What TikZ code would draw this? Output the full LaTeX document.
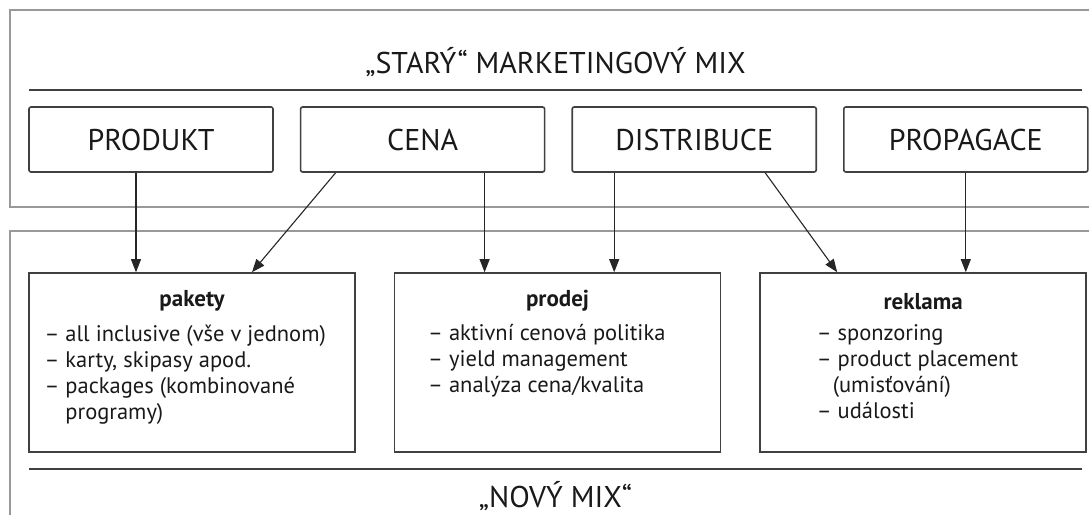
\documentclass[tikz,border=0pt]{standalone}
\usepackage{fontspec}
\setmainfont{PT Sans}
\usetikzlibrary{positioning, arrows.meta}

\begin{document}
\begin{tikzpicture}[x=0.5pt, y=-0.5pt,
    frame/.style={draw=black!40, line width=1.2pt},
    rule/.style={draw=black!75, line width=0.8pt},
    oldbox/.style={draw=black!75, line width=0.8pt, rounded corners=1pt, minimum width=122pt, minimum height=32.5pt, inner sep=0pt, font=\fontsize{15}{18}\selectfont, text=black!90},
    newbox/.style={draw=black!75, line width=0.8pt, minimum width=163pt, minimum height=89.5pt, inner sep=0pt},
    heading/.style={font=\fontsize{15}{18}\selectfont, text=black!90},
    boxtitle/.style={font=\bfseries\fontsize{11.5}{12}\selectfont, text=black!90},
    items/.style={align=left, inner sep=0pt, anchor=north west, font=\fontsize{11.25}{13}\selectfont, text=black!90},
    arr/.style={-{Triangle[length=6.5pt, width=5pt]}, line width=0.55pt, draw=black!85},
    node distance=13pt]

    \useasboundingbox (0,0) rectangle (1089,515);
    \draw[frame] (1089,10) -- (10,10) -- (10,207) -- (1089,207);
    \draw[frame] (1089,231) -- (10,231) -- (10,515);

    \node[heading] (starymix) at (555.5,62) {„STARÝ“ MARKETINGOVÝ MIX};
    \draw[rule] (29,90) -- (1082,90);
    \node[oldbox] (produkt) at (151,139.5) {PRODUKT};
    \node[oldbox, right=of produkt] (cena) {CENA};
    \node[oldbox, right=of cena] (distribuce) {DISTRIBUCE};
    \node[oldbox, right=of distribuce] (propagace) {PROPAGACE};

    \node[newbox] (pakety) at (192,362.5) {};
    \node[newbox, right=19pt of pakety] (prodej) {};
    \node[newbox, right=19pt of prodej] (reklama) {};
    \node[boxtitle] (paketyname) at ([yshift=-14.5pt]pakety.north) {pakety};
    \node[boxtitle] (prodejname) at ([yshift=-14.5pt]prodej.north) {prodej};
    \node[boxtitle] (reklamaname) at ([yshift=-14.5pt]reklama.north) {reklama};
    \node[items] (paketylist) at ([xshift=8pt, yshift=-26pt]pakety.north west)
        {– all inclusive (vše v jednom)\\– karty, skipasy apod.\\– packages (kombinované\\\hphantom{– }programy)};
    \node[items] (prodejlist) at ([xshift=17pt, yshift=-26pt]prodej.north west)
        {– aktivní cenová politika\\– yield management\\– analýza cena/kvalita};
    \node[items] (reklamalist) at ([xshift=28.5pt, yshift=-26pt]reklama.north west)
        {– sponzoring\\– product placement\\\hspace*{8pt}(umisťování)\\– události};

    \draw[rule] (29,469) -- (1082,469);
    \node[heading] (novymix) at (555.5,496) {„NOVÝ MIX“};

    \draw[arr] ([xshift=-7.5pt]produkt.south) -- ([xshift=-7.5pt]produkt.south |- pakety.north);
    \draw[arr] ([xshift=-43.5pt]cena.south) -- ([xshift=30pt]pakety.north);
    \draw[arr] ([xshift=31pt]cena.south) -- ([xshift=31pt]cena.south |- prodej.north);
    \draw[arr] ([xshift=-40pt]distribuce.south) -- ([xshift=-40pt]distribuce.south |- prodej.north);
    \draw[arr] ([xshift=35.5pt]distribuce.south) -- ([xshift=-43pt]reklama.north);
    \draw[arr] (propagace.south) -- (propagace.south |- reklama.north);
\end{tikzpicture}
\end{document}
